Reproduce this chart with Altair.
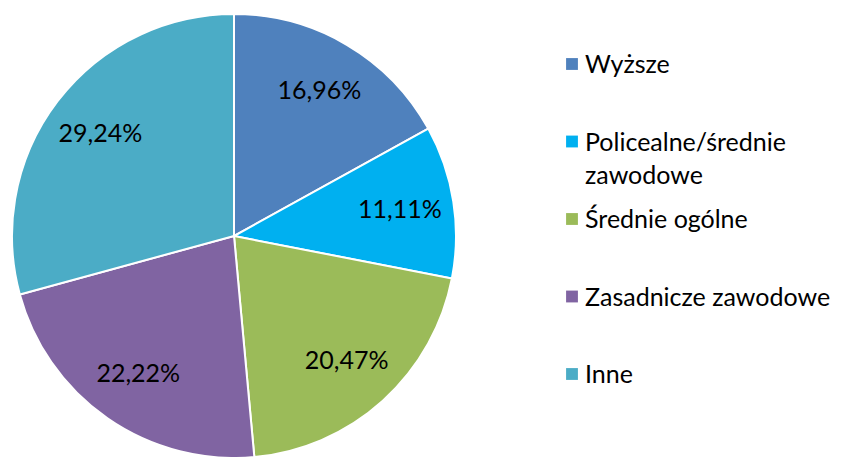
import altair as alt
import pandas as pd

categories = ["Wyższe", "Policealne/średnie zawodowe", "Średnie ogólne", "Zasadnicze zawodowe", "Inne"]
values = [16.96, 11.11, 20.47, 22.22, 29.24]
colors = ["#4F81BD", "#00B0F0", "#9BBB59", "#8064A2", "#4BACC6"]

labels = [f"{v:.2f}".replace(".", ",") + "%" for v in values]
legend_text = [c.replace("średnie ", "średnie\n") for c in categories]

df = pd.DataFrame({
    "cat": categories,
    "value": values,
    "label": labels,
    "legend": legend_text,
    "idx": list(range(len(categories))),
})

FONT = "Lato"
cx, cy, R = 226, 228, 222

color = alt.Color("cat:N", scale=alt.Scale(domain=categories, range=colors), legend=None)

base = alt.Chart(df)

pie = base.mark_arc(stroke="white", strokeWidth=2).encode(
    theta=alt.Theta("value:Q", stack=True),
    order=alt.Order("idx:Q"),
    color=color,
    x=alt.value(cx), y=alt.value(cy),
    radius=alt.value(R),
)

pct = base.mark_text(font=FONT, fontSize=25, color="black").encode(
    theta=alt.Theta("value:Q", stack=True),
    order=alt.Order("idx:Q"),
    text="label:N",
    x=alt.value(cx), y=alt.value(cy),
    radius=alt.value(168),
)

ypos = alt.Y("cat:N", scale=alt.Scale(domain=categories, range=[56, 366], padding=0), axis=None)

leg_sym = base.mark_square(size=140, opacity=1).encode(
    x=alt.value(564),
    y=ypos,
    color=color,
)

leg_txt = base.mark_text(font=FONT, fontSize=25, align="left", baseline="alphabetic",
                         dy=9, lineBreak="\n", lineHeight=33, color="black").encode(
    x=alt.value(577),
    y=ypos,
    text="legend:N",
)

chart = alt.layer(pie, pct, leg_sym, leg_txt).properties(
    width=830, height=449,
    autosize=alt.AutoSizeParams(type="none"),
    padding=0,
).configure_view(stroke=None)

chart.save("out.html", embed_options={"renderer": "svg", "actions": False})
